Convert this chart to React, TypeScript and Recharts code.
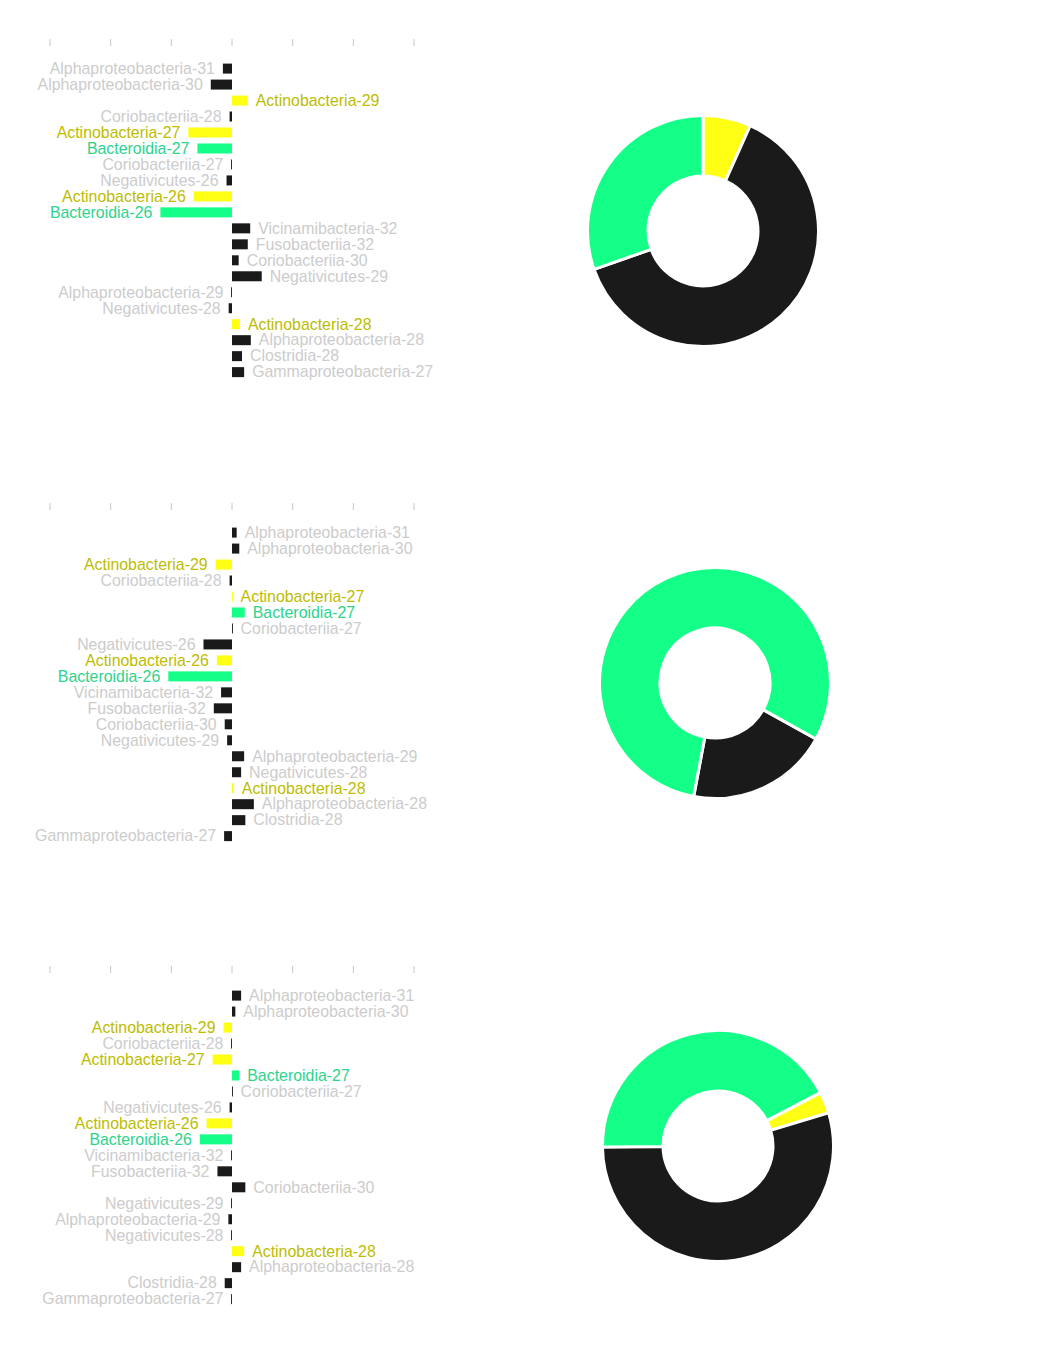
import React from 'react';
import { BarChart, Bar, XAxis, YAxis, PieChart, Pie, Cell } from 'recharts';

// categories, shared by the three bar panels (top to bottom)
const CATEGORIES = [
  'Alphaproteobacteria-31',
  'Alphaproteobacteria-30',
  'Actinobacteria-29',
  'Coriobacteriia-28',
  'Actinobacteria-27',
  'Bacteroidia-27',
  'Coriobacteriia-27',
  'Negativicutes-26',
  'Actinobacteria-26',
  'Bacteroidia-26',
  'Vicinamibacteria-32',
  'Fusobacteriia-32',
  'Coriobacteriia-30',
  'Negativicutes-29',
  'Alphaproteobacteria-29',
  'Negativicutes-28',
  'Actinobacteria-28',
  'Alphaproteobacteria-28',
  'Clostridia-28',
  'Gammaproteobacteria-27',
];

const VALUES_1 = [-0.15, -0.35, 0.26, -0.04, -0.72, -0.57, -0.01, -0.09, -0.63, -1.18, 0.3, 0.26, 0.11, 0.49, -0.01, -0.055, 0.13, 0.31, 0.165, 0.2];
const VALUES_2 = [0.077, 0.12, -0.27, -0.04, 0.01, 0.21, 0.01, -0.47, -0.25, -1.05, -0.18, -0.3, -0.12, -0.08, 0.2, 0.15, 0.03, 0.36, 0.22, -0.13];
const VALUES_3 = [0.15, 0.055, -0.14, -0.01, -0.32, 0.12, 0.01, -0.04, -0.42, -0.53, -0.01, -0.24, 0.22, -0.01, -0.06, -0.01, 0.2, 0.15, -0.12, -0.01];

const X_TICKS = [-3, -2, -1, 0, 1, 2, 3];

// donuts: slices in clockwise order
const PIE_NAMES = ['Actinobacteria', 'Other', 'Bacteroidia'];
const PIE_1 = [6.7, 62.9, 30.4];
const PIE_2 = [0, 19.9, 80.1];
const PIE_3 = [3.0, 54.5, 42.5];

const FILL: Record<string, string> = { Actinobacteria: '#ffff14', Other: '#1a1a1a', Bacteroidia: '#14ff87' };
const TEXT: Record<string, string> = { Actinobacteria: '#bcbc00', Other: '#cccccc', Bacteroidia: '#2ed38c' };

const groupOf = (name: string) =>
  name.startsWith('Actinobacteria') ? 'Actinobacteria' : name.startsWith('Bacteroidia') ? 'Bacteroidia' : 'Other';

const FONT = '"Liberation Sans", Arial, Helvetica, sans-serif';

const BarShape = (props: any) => {
  const { x, y, width, height, payload } = props;
  const left = Math.min(x, x + width);
  const right = Math.max(x, x + width);
  const neg = payload.value < 0;
  const g = groupOf(payload.name);
  const cy = y + height / 2;
  const w = Math.max(right - left, 0.9);
  return (
    <g>
      <rect x={neg ? right - w : left} y={y} width={w} height={height} fill={FILL[g]} />
      <text
        x={neg ? left - 8 : right + 8}
        y={cy + 5.3}
        textAnchor={neg ? 'end' : 'start'}
        fill={TEXT[g]}
        fontSize={15.9}
        fontFamily={FONT}
      >
        {payload.name}
      </text>
    </g>
  );
};

const noLabel = () => '';

const DivergingBars = ({ values, top }: { values: number[]; top: number }) => {
  const data = CATEGORIES.map((name, i) => ({ name, value: values[i] }));
  return (
    <div style={{ position: 'absolute', left: 0, top }}>
      <BarChart
        width={440}
        height={440}
        layout="vertical"
        data={data}
        margin={{ top: 20, right: 26, bottom: 20, left: 50 }}
        style={{ overflow: 'visible' }}
      >
        <XAxis
          xAxisId="top"
          orientation="top"
          type="number"
          domain={[-3, 3]}
          ticks={X_TICKS}
          tickFormatter={noLabel}
          tickSize={7}
          tickLine={{ stroke: '#c8c8c8' }}
          axisLine={false}
          height={26}
        />
        <XAxis
          xAxisId="bottom"
          orientation="bottom"
          type="number"
          domain={[-3, 3]}
          ticks={X_TICKS}
          tickFormatter={noLabel}
          tickSize={7}
          tickLine={{ stroke: '#c8c8c8' }}
          axisLine={false}
          height={26.5}
        />
        <YAxis type="category" dataKey="name" hide padding={{ top: 14.6, bottom: 13.4 }} />
        <Bar dataKey="value" xAxisId="top" barSize={10} shape={BarShape} isAnimationActive={false} />
      </BarChart>
    </div>
  );
};

const Donut = ({ values, cx, cy, start }: { values: number[]; cx: number; cy: number; start: number }) => {
  const data = PIE_NAMES.map((name, i) => ({ name, value: values[i] }));
  return (
    <div style={{ position: 'absolute', left: cx - 130, top: cy - 130 }}>
      <PieChart width={260} height={260}>
        <Pie
          data={data}
          dataKey="value"
          cx="50%"
          cy="50%"
          innerRadius={55}
          outerRadius={115.5}
          startAngle={start}
          endAngle={start - 360}
          stroke="#ffffff"
          strokeWidth={3}
          isAnimationActive={false}
        >
          {data.map((d) => (
            <Cell key={d.name} fill={FILL[d.name]} />
          ))}
        </Pie>
      </PieChart>
    </div>
  );
};

export default function App() {
  return (
    <div style={{ position: 'absolute', left: 0, top: 0, width: 1039, height: 1350, background: '#fff' }}>
      <DivergingBars values={VALUES_1} top={0} />
      <DivergingBars values={VALUES_2} top={463.7} />
      <DivergingBars values={VALUES_3} top={927.4} />
      <Donut values={PIE_1} cx={703} cy={231} start={90} />
      <Donut values={PIE_2} cx={715} cy={683} start={-29} />
      <Donut values={PIE_3} cx={718} cy={1146} start={27.5} />
    </div>
  );
}
